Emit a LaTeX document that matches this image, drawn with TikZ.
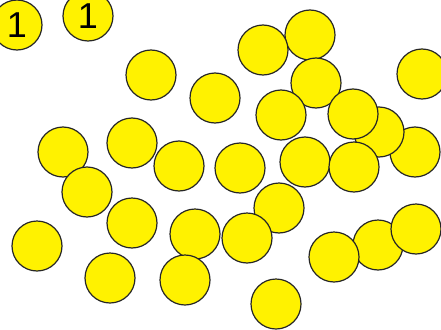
\documentclass[tikz,border=0pt]{standalone}
\usepackage{fontspec}
\setmainfont{Liberation Sans}
\begin{document}
\begin{tikzpicture}[x=1pt,y=-1pt,
  ball/.style={circle,draw=black!85,line width=1.2pt,fill=yellow,minimum size=50pt,inner sep=0pt,font=\fontsize{36}{36}\selectfont}]
\useasboundingbox (0,0) rectangle (441,329);
\node[ball] (c1) at (17,25) {1};
\node[ball] (c2) at (88,16) {1};
\node[ball] (c3) at (151,75) {};
\node[ball] (c4) at (215,98) {};
\node[ball] (c5) at (310,35) {};
\node[ball] (c6) at (263,50) {};
\node[ball] (c7) at (316,83) {};
\node[ball] (c8) at (422,74) {};
\node[ball] (c9) at (281,115) {};
\node[ball] (c10) at (415,152) {};
\node[ball] (c11) at (379,132) {};
\node[ball] (c12) at (353,114) {};
\node[ball] (c13) at (63,152) {};
\node[ball] (c14) at (87,192) {};
\node[ball] (c15) at (132,143) {};
\node[ball] (c16) at (179,166) {};
\node[ball] (c17) at (240,168) {};
\node[ball] (c18) at (305,162) {};
\node[ball] (c19) at (354,167) {};
\node[ball] (c20) at (132,223) {};
\node[ball] (c21) at (195,234) {};
\node[ball] (c22) at (185,280) {};
\node[ball] (c23) at (279,208) {};
\node[ball] (c24) at (247,238) {};
\node[ball] (c25) at (37,246) {};
\node[ball] (c26) at (110,278) {};
\node[ball] (c27) at (378,245) {};
\node[ball] (c28) at (416,229) {};
\node[ball] (c29) at (334,257) {};
\node[ball] (c30) at (276,304) {};
\end{tikzpicture}
\end{document}
